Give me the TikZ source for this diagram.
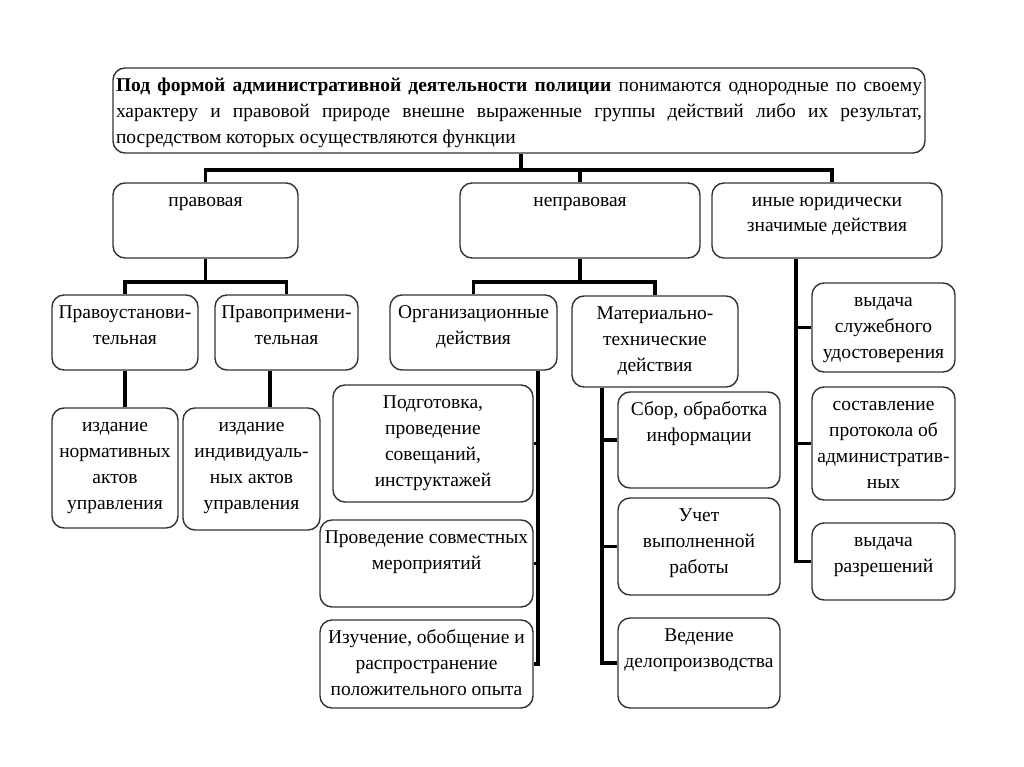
\documentclass[tikz,border=0pt]{standalone}
\usepackage{fontspec}
\setmainfont{Liberation Serif}
\newcommand{\feld}[3]{\parbox[c][#2pt][t]{#1pt}{\centering\rule{0pt}{23pt}#3}}
\tikzset{kasten/.style={draw=black!80, line width=1.4pt, rounded corners=12pt, inner sep=0pt},
	linie/.style={line width=3.2pt},
	helper/.style={inner sep=0} }

\begin{document}
\begin{tikzpicture}
	[x=1pt, y=-1pt,
	 font=\fontsize{19.5}{26}\selectfont]

  \fill[white] (0,0) rectangle (1024,767);

  \node (a) [kasten, inner xsep=3pt] at (519,110.5) {\parbox[c][85pt][t]{806pt}{\rule{0pt}{24pt}\textbf{Под формой административной деятельности полиции} понимаются однородные по своему\linebreak характеру и правовой природе внешне выраженные группы действий либо их результат,\linebreak посредством которых осуществляются функции}};

  \node (b1) [kasten] at (205.5,220.5) {\feld{185}{75}{правовая}};
  \node (b2) [kasten] at (580,220.5) {\feld{240}{75}{неправовая}};
  \node (b3) [kasten] at (827,220.5) {\feld{230}{75}{иные юридически\\ значимые действия}};

  \node (c1) [kasten] at (125,332.5) {\feld{146}{75}{Правоустанови-\\тельная}};
  \node (c2) [kasten] at (286.5,332.5) {\feld{143}{75}{Правопримени-\\тельная}};
  \node (c3) [kasten] at (473.5,332.5) {\feld{167}{75}{Организационные\\ действия}};
  \node (c4) [kasten] at (655,341.5) {\feld{166}{91}{Материально-\\технические\\ действия}};

  \node (l1) [kasten] at (115,468) {\feld{126}{120}{издание\\ нормативных\\ актов\\ управления}};
  \node (l2) [kasten] at (251.5,469) {\feld{137}{122}{издание\\ индивидуаль-\\ных актов\\ управления}};
  \node (l3) [kasten] at (433,443.5) {\feld{200}{117}{Подготовка,\\ проведение\\ совещаний,\\ инструктажей}};
  \node (l4) [kasten] at (426.5,563.5) {\feld{213}{87}{Проведение совместных\\ мероприятий}};
  \node (l5) [kasten] at (426.5,664) {\feld{213}{88}{Изучение, обобщение и\\ распространение\\ положительного опыта}};
  \node (l6) [kasten] at (699,440) {\feld{162}{96}{Сбор, обработка\\ информации}};
  \node (l7) [kasten] at (699,546.5) {\feld{162}{97}{Учет\\ выполненной\\ работы}};
  \node (l8) [kasten] at (699,663) {\feld{162}{90}{Ведение\\ делопроизводства}};
  \node (l9) [kasten] at (883.5,327.5) {\feld{143}{89}{выдача\\ служебного\\ удостоверения}};
  \node (l10) [kasten] at (883.5,443.5) {\feld{143}{113}{составление\\ протокола об\\ административ-\\ных}};
  \node (l11) [kasten] at (883.5,561.5) {\feld{143}{77}{выдача\\ разрешений}};

  \coordinate (k0) at (521,170);
  \coordinate (k1) at (832,170);
  \coordinate (k2) at (0,282);
  \coordinate (s2) at (270,0);
  \coordinate (s3) at (538,0);
  \coordinate (s4) at (602,0);
  \coordinate (s5) at (796,0);

  \draw[linie] (a.south -| k0) -- (k0);
  \draw[linie] (b1.north) |- (k1) -- (k1 |- b3.north);
  \draw[linie] (k0 -| b2.north) -- (b2.north);

  \draw[linie] (b1.south) -- (b1.south |- k2);
  \draw[linie] (c1.north) |- (k2 -| c2.north) -- (c2.north);
  \draw[linie] (b2.south) -- (b2.south |- k2);
  \draw[linie] (c3.north) |- (k2 -| c4.north) -- (c4.north);

  \draw[linie] (c1.south) -- (c1.south |- l1.north);
  \draw[linie] (c2.south -| s2) -- (l2.north -| s2);

  \draw[linie] (c3.south -| s3) |- (l5.east);
  \draw[linie] (l3.east) -- (l3.east -| s3);
  \draw[linie] (l4.east) -- (l4.east -| s3);

  \draw[linie] (c4.south -| s4) |- (l8.west);
  \draw[linie] (l6.west) -- (l6.west -| s4);
  \draw[linie] (l7.west) -- (l7.west -| s4);

  \draw[linie] (b3.south -| s5) |- (l11.west);
  \draw[linie] (l9.west) -- (l9.west -| s5);
  \draw[linie] (l10.west) -- (l10.west -| s5);
\end{tikzpicture}
\end{document}
